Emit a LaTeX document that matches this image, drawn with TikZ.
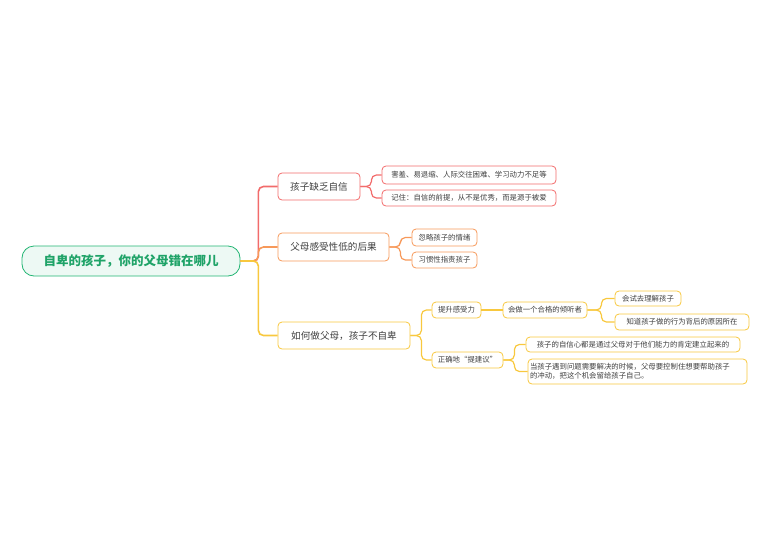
\documentclass[tikz,border=0pt]{standalone}
\usepackage{fontspec}
\setmainfont{Noto Sans CJK SC}
\begin{document}
\begin{tikzpicture}[x=1pt,y=-1pt,
  box/.style={draw,rounded corners=4pt,line width=0.8pt,fill=white,inner sep=1pt,text=black!75},
  leaf/.style={box,font=\fontsize{7.4}{9}\selectfont},
  br/.style={box,font=\fontsize{9.6}{11}\selectfont},
  con/.style={line width=1.6pt,rounded corners=5pt}]
\definecolor{cr}{HTML}{F26B6B}\definecolor{co}{HTML}{F7995A}\definecolor{cy}{HTML}{F8C83E}\definecolor{cg}{HTML}{22B573}
\useasboundingbox (0,0) rectangle (771,552);
\node[box,draw=cg,fill=cg!8,text=cg!90!black,font=\bfseries\fontsize{12.5}{14}\selectfont,minimum width=218,minimum height=30,rounded corners=12pt] (root) at (131,261) {自卑的孩子，你的父母错在哪儿};
\node[br,draw=cr,minimum width=82,minimum height=27] (b1) at (319,186.5) {孩子缺乏自信};
\node[br,draw=co,minimum width=111,minimum height=28] (b2) at (333.5,247) {父母感受性低的后果};
\node[br,draw=cy,minimum width=132,minimum height=27] (b3) at (344,335.5) {如何做父母，孩子不自卑};
\node[leaf,draw=cr,minimum width=174,minimum height=18] (l1) at (469,175) {害羞、易退缩、人际交往困难、学习动力不足等};
\node[leaf,draw=cr,minimum width=174,minimum height=16] (l2) at (469,198) {记住：自信的前提，从不是优秀，而是源于被爱};
\node[leaf,draw=co,minimum width=65,minimum height=17] (l3) at (444.5,237.5) {忽略孩子的情绪};
\node[leaf,draw=co,minimum width=65,minimum height=16] (l4) at (444.5,260) {习惯性指责孩子};
\node[leaf,draw=cy,minimum width=49,minimum height=16] (m1) at (456.5,310) {提升感受力};
\node[leaf,draw=cy,minimum width=71,minimum height=16] (m2) at (467.5,360) {正确地“提建议”};
\node[leaf,draw=cy,minimum width=84,minimum height=16] (n1) at (545,310) {会做一个合格的倾听者};
\node[leaf,draw=cy,minimum width=66,minimum height=15] (p1) at (648,298.5) {会试去理解孩子};
\node[leaf,draw=cy,minimum width=134,minimum height=16] (p2) at (682,322) {知道孩子做的行为背后的原因所在};
\node[leaf,draw=cy,minimum width=214,minimum height=15] (q1) at (633,344.5) {孩子的自信心都是通过父母对于他们能力的肯定建立起来的};
\node[leaf,draw=cy,text width=215,minimum height=25,align=left,inner sep=2pt] (q2) at (637.5,371.5) {当孩子遇到问题需要解决的时候，父母要控制住想要帮助孩子\\的冲动，把这个机会留给孩子自己。};
\draw[con,cr] (root.east) -- ++(18,0) |- (b1.west);
\draw[con,co] (root.east) -- ++(18,0) |- (b2.west);
\draw[con,cy] (root.east) -- ++(18,0) |- (b3.west);
\draw[con,cr,line width=1.2pt] (b1.east) -- ++(11,0) |- (l1.west);
\draw[con,cr,line width=1.2pt] (b1.east) -- ++(11,0) |- (l2.west);
\draw[con,co,line width=1.2pt] (b2.east) -- ++(11,0) |- (l3.west);
\draw[con,co,line width=1.2pt] (b2.east) -- ++(11,0) |- (l4.west);
\draw[con,cy,line width=1.2pt] (b3.east) -- ++(11,0) |- (m1.west);
\draw[con,cy,line width=1.2pt] (b3.east) -- ++(11,0) |- (m2.west);
\draw[con,cy,line width=1.2pt] (m1.east) -- (n1.west);
\draw[con,cy,line width=1.2pt] (n1.east) -- ++(14,0) |- (p1.west);
\draw[con,cy,line width=1.2pt] (n1.east) -- ++(14,0) |- (p2.west);
\draw[con,cy,line width=1.2pt] (m2.east) -- ++(11,0) |- (q1.west);
\draw[con,cy,line width=1.2pt] (m2.east) -- ++(11,0) |- (q2.west);
\end{tikzpicture}
\end{document}
